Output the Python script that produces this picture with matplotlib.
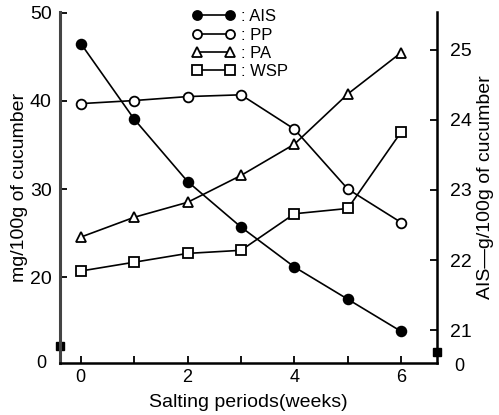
import matplotlib
matplotlib.use("Agg")
import matplotlib.pyplot as plt

plt.rcParams['font.family'] = ['Liberation Sans', 'DejaVu Sans']

weeks = [0, 1, 2, 3, 4, 5, 6]
ais = [25.09, 24.01, 23.12, 22.47, 21.90, 21.44, 20.98]   # right axis (g/100g)
pp = [39.7, 40.05, 40.5, 40.7, 36.8, 30.0, 26.2]          # left axis (mg/100g)
pa = [24.55, 26.8, 28.5, 31.55, 35.1, 40.8, 45.5]
wsp = [20.7, 21.7, 22.7, 23.05, 27.2, 27.8, 36.5]

left_ticks = [20, 30, 40, 50]
right_ticks = [21, 22, 23, 24, 25]
x_ticks = [0, 2, 4, 6]

fig = plt.figure(figsize=(4.99, 4.15), dpi=100)
ax = fig.add_axes([0.1202, 0.1253, 0.7556, 0.8458])
ax2 = ax.twinx()

ax.set_xlim(-0.39, 6.67)
ax.set_ylim(10.26, 50.1)
ax2.set_ylim(20.53, 25.54)

mk = dict(color='black', lw=1.2, markersize=7, markeredgewidth=1.3)
lp, = ax.plot(weeks, pp, marker='o', markerfacecolor='white', **mk)
la, = ax.plot(weeks, pa, marker='^', markerfacecolor='white', **mk)
lw, = ax.plot(weeks, wsp, marker='s', markerfacecolor='white', **mk)
li, = ax2.plot(weeks, ais, marker='o', markerfacecolor='black', **mk)

ax.set_xticks(weeks)
ax.set_xticklabels([str(w) if w in x_ticks else '' for w in weeks])
ax.set_yticks(left_ticks)
ax2.set_yticks(right_ticks)

ax.tick_params(axis='x', direction='in', length=5, width=1.3, labelsize=13, pad=4)
ax.tick_params(axis='y', direction='in', length=5, width=1.3, labelsize=14, pad=6)
ax2.tick_params(axis='y', direction='in', length=5, width=1.3, labelsize=14, pad=9)

for a in (ax, ax2):
    a.spines['top'].set_visible(False)
ax.spines['left'].set_linewidth(2.2)
ax.spines['left'].set_color('#444444')
ax.spines['bottom'].set_linewidth(1.8)
ax2.spines['right'].set_linewidth(1.8)
ax2.spines['left'].set_visible(False)
ax2.spines['bottom'].set_visible(False)

ax.set_xlabel('Salting periods(weeks)', fontsize=14, labelpad=6)
ax.set_ylabel('mg/100g of cucumber', fontsize=14, labelpad=1)
ax2.set_ylabel('AIS\u2014g/100g of cucumber', fontsize=14, labelpad=4)

# axis break markers and bottom zero labels
ax.plot([0], [0.048], marker='s', markersize=6, color='black', transform=ax.transAxes, clip_on=False)
ax.plot([1], [0.03], marker='s', markersize=6, color='black', transform=ax.transAxes, clip_on=False)
ax.text(-0.035, 0.0, '0', transform=ax.transAxes, ha='right', va='center', fontsize=13)
ax.text(1.06, -0.01, '0', transform=ax.transAxes, ha='center', va='center', fontsize=13)

handles = [li, lp, la, lw]
labels = [': AIS', ': PP', ': PA', ': WSP']
leg = ax.legend(handles, labels, loc='upper left', bbox_to_anchor=(0.35, 1.008),
                frameon=False, numpoints=2, handlelength=2.6, handletextpad=0.35,
                labelspacing=0.2, fontsize=12, borderaxespad=0, borderpad=0)
for h in leg.legend_handles:
    h.set_markersize(6.5)

fig.savefig('out.png', dpi=100)
